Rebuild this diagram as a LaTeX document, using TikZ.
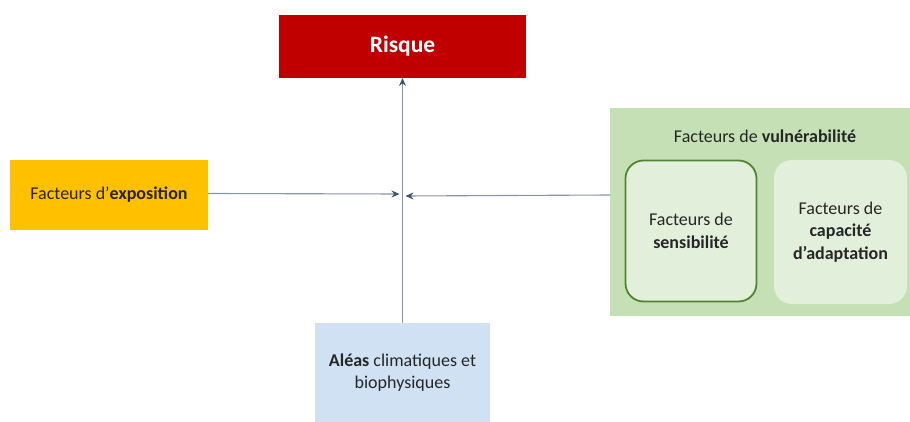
\documentclass[tikz,border=0pt]{standalone}
\usepackage{fontspec}
\setmainfont{Carlito}
\usetikzlibrary{arrows.meta}
\definecolor{riskred}{HTML}{C00000}
\definecolor{expoyel}{HTML}{FFC000}
\definecolor{vulngreen}{HTML}{C5E0B4}
\definecolor{lightgreen}{HTML}{E2EFDA}
\definecolor{darkgreen}{HTML}{548235}
\definecolor{aleablue}{HTML}{CFE1F3}
\definecolor{linecol}{HTML}{8494AC}
\definecolor{tipcol}{HTML}{44546A}
\definecolor{txt}{HTML}{262626}
\begin{document}
\begin{tikzpicture}[x=1pt,y=-1pt,
  box/.style={inner sep=0pt,outer sep=0pt,align=center,text=txt,font=\fontsize{18}{22.5}\selectfont},
  conn/.style={draw=linecol,line width=1.1pt,-{Stealth[length=8pt,width=7pt,color=tipcol]}}]
\useasboundingbox (0,0) rectangle (910,422);
\node[box,fill=riskred,minimum width=247pt,minimum height=63pt,text=white,font=\fontsize{23.5}{26}\selectfont\bfseries] (risque) at (402.5,46.5) {Risque};
\node[box,fill=expoyel,minimum width=198pt,minimum height=70pt] (expo) at (109,195) {Facteurs d’\textbf{exposition}};
\node[box,fill=vulngreen,minimum width=300pt,minimum height=208pt] (vuln) at (760,212) {};
\node[box] (vtitle) at (765,136) {Facteurs de \textbf{vulnérabilité}};
\node[box,fill=lightgreen,draw=darkgreen,line width=1.8pt,rounded corners=18pt,minimum width=131pt,minimum height=141pt] (sens) at (691,231) {Facteurs de\\\textbf{sensibilité}};
\node[box,fill=lightgreen,rounded corners=18pt,minimum width=133pt,minimum height=144pt] (cap) at (840.5,232) {Facteurs de\\\textbf{capacité}\\\textbf{d’adaptation}};
\node[box,fill=aleablue,minimum width=175pt,minimum height=99pt] (aleas) at (402.5,372.5) {\textbf{Aléas} climatiques et\\biophysiques};
\coordinate (expoend) at (399.5,194);
\coordinate (vulnstart) at (610,195);
\coordinate (vulnend) at (405.5,196);
\draw[conn] (aleas.north) -- (risque.south);
\draw[conn] (expo.east |- 0,193.5) -- (expoend);
\draw[conn] (vulnstart) -- (vulnend);
\end{tikzpicture}
\end{document}
